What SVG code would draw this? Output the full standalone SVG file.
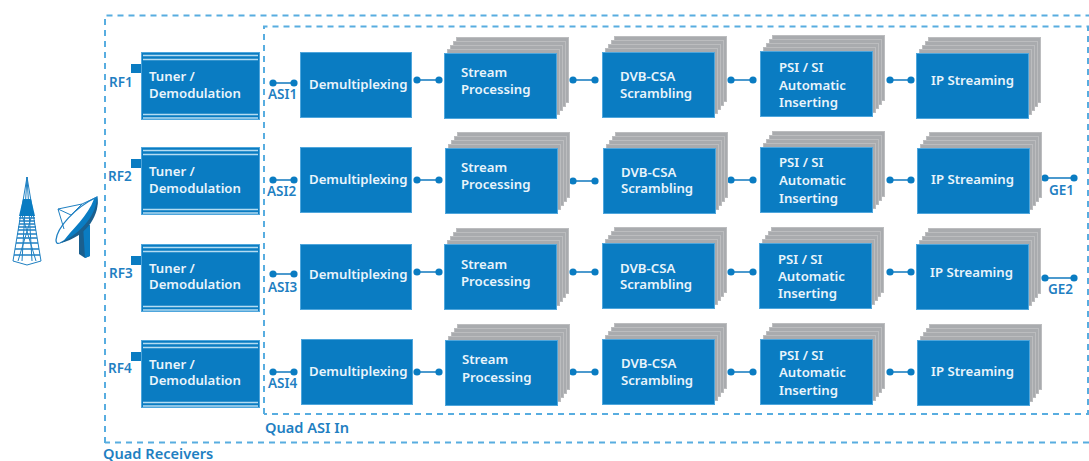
<svg xmlns="http://www.w3.org/2000/svg" width="1089" height="461" viewBox="0 0 1089 461">
<style>
text{font-family:"Noto Sans","Open Sans","Liberation Sans",sans-serif;font-weight:600;font-size:13.2px}
.w{fill:#e9f4fb}
.l{fill:#1f80c2;font-size:13.5px}
.q{fill:#1f80c2;font-size:14.6px}
.b{fill:#0a7cc2;stroke:#4fa6dc;stroke-width:1}
.g{fill:#a9abae;stroke:#bcbdbf;stroke-width:1}
.s{fill:none;stroke:#b5dcf2;stroke-width:1.4}
.d{fill:none;stroke:#58ade0;stroke-width:2;stroke-dasharray:6 5}
.c{stroke:#1f80c2;stroke-width:1.6;fill:none;marker-start:url(#dot);marker-end:url(#dot)}
.t{fill:none;stroke:#1f80c2;stroke-width:1}
.h{fill:none;stroke:#1f80c2;stroke-width:1.5}
</style>
<defs>
<marker id="dot" markerUnits="userSpaceOnUse" markerWidth="8" markerHeight="8" refX="4" refY="4"><circle cx="4" cy="4" r="3.6" fill="#0a7cc2"/></marker>
<g id="stack">
<rect class="g" x="12.500" y="-15.500" width="112" height="65"/>
<rect class="g" x="9.500" y="-11.500" width="112" height="65"/>
<rect class="g" x="6.500" y="-7.500" width="112" height="65"/>
<rect class="g" x="3.500" y="-3.500" width="112" height="65"/>
<rect class="b" x="0.500" y="0.500" width="112" height="65"/>
</g>
<g id="tuner">
<rect fill="#0a7cc2" x="-10" y="12" width="11" height="9"/>
<rect class="b" x="0.500" y="0.500" width="118" height="67"/>
<path class="s" d="M2 3.500H117M2 7.500H117M2 62.500H117M2 66H117"/>
</g>
</defs>

<g id="connectors">
<path class="d" d="M105 443V15.500H1089"/>
<path class="d" d="M1089 442.500H105"/>
<path class="d" d="M264 414V26.500H1088V414H264"/>
<path class="c" d="M273 83H294"/><path class="c" d="M273 180H294"/><path class="c" d="M273 274H294"/><path class="c" d="M273 372H294"/>
<path class="c" d="M417 80H439"/><path class="c" d="M417 180H439"/><path class="c" d="M417 272H439"/><path class="c" d="M417 372H439"/>
<path class="c" d="M573 80H595"/><path class="c" d="M573 181H595"/><path class="c" d="M573 272H595"/><path class="c" d="M573 372H595"/>
<path class="c" d="M731 80H753"/><path class="c" d="M731 180H753"/><path class="c" d="M731 272H753"/><path class="c" d="M731 372H753"/>
<path class="c" d="M890 80H911"/><path class="c" d="M890 180H911"/><path class="c" d="M890 272H911"/><path class="c" d="M890 372H911"/>
<path class="c" d="M1045 178H1074"/><path class="c" d="M1045 278H1074"/>
</g>

<g id="tower">
<path class="t" d="M27 177L13 261M27 177L41 261M27 177L22 261M27 177L32 261M13 261L27 265L41 261M22 215L36 261M32 215L18 261"/>
<path fill="#0a7cc2" d="M23 199H31L35 216H19Z"/>
<path class="h" d="M19 218H35M19 221H35M19 224H35M18 227H36M18 230H36M17 234H37M17 238H37M16 243H38M15 249H39M14 255H40"/>
</g>
<g id="dish">
<path fill="#1a5f8e" d="M79 225H90V256L85 258L79 254Z"/>
<path fill="#0a7cc2" d="M83 225H90V256L85 258Z"/>
<path fill="#ffffff" stroke="#1f80c2" stroke-width="1.3" d="M56 240C57 228 74 208 97 197C99 212 84 232 60 243C57 244 56 243 56 240Z"/>
<path fill="#0a7cc2" d="M97 197C99 212 84 232 62 243C72 229 88 216 94 199Z"/>
<path fill="#1a5f8e" d="M60 243C84 232 97 212 97 197C101 212 88 237 60 243Z"/>
<path class="t" d="M58 209L82 204L97 197M58 209L64 229M58 209L71 215L82 204"/>
</g>

<g id="rf1"><use href="#tuner" x="141" y="52"/><text class="w" x="149" y="81">Tuner /</text><text class="w" x="149" y="98">Demodulation</text><text class="l" x="109" y="87">RF1</text></g>
<g id="rf2"><use href="#tuner" x="141" y="147"/><text class="w" x="149" y="176">Tuner /</text><text class="w" x="149" y="193">Demodulation</text><text class="l" x="108" y="181">RF2</text></g>
<g id="rf3"><use href="#tuner" x="141" y="244"/><text class="w" x="149" y="273">Tuner /</text><text class="w" x="149" y="289">Demodulation</text><text class="l" x="109" y="278">RF3</text></g>
<g id="rf4"><use href="#tuner" x="141" y="340"/><text class="w" x="149" y="369">Tuner /</text><text class="w" x="149" y="385">Demodulation</text><text class="l" x="108" y="373">RF4</text></g>

<g id="asi1"><text class="l" x="268" y="99">ASI1</text></g>
<g id="asi2"><text class="l" x="267" y="196">ASI2</text></g>
<g id="asi3"><text class="l" x="268" y="292">ASI3</text></g>
<g id="asi4"><text class="l" x="268" y="388">ASI4</text></g>

<g id="demux1"><rect class="b" x="300.500" y="52.500" width="111" height="65"/><text class="w" x="309" y="89">Demultiplexing</text></g>
<g id="demux2"><rect class="b" x="300.500" y="147.500" width="111" height="65"/><text class="w" x="309" y="184">Demultiplexing</text></g>
<g id="demux3"><rect class="b" x="300.500" y="244.500" width="111" height="65"/><text class="w" x="309" y="279">Demultiplexing</text></g>
<g id="demux4"><rect class="b" x="301.500" y="339.500" width="111" height="65"/><text class="w" x="309" y="376">Demultiplexing</text></g>

<g id="stream1"><use href="#stack" x="444" y="53"/><text class="w" x="461" y="77">Stream</text><text class="w" x="461" y="94">Processing</text></g>
<g id="stream2"><use href="#stack" x="445" y="148"/><text class="w" x="461" y="172">Stream</text><text class="w" x="461" y="189">Processing</text></g>
<g id="stream3"><use href="#stack" x="444" y="244"/><text class="w" x="461" y="269">Stream</text><text class="w" x="461" y="286">Processing</text></g>
<g id="stream4"><use href="#stack" x="445" y="340"/><text class="w" x="462" y="364">Stream</text><text class="w" x="462" y="382">Processing</text></g>

<g id="dvb1"><use href="#stack" x="602" y="52"/><text class="w" x="620" y="81">DVB-CSA</text><text class="w" x="620" y="98">Scrambling</text></g>
<g id="dvb2"><use href="#stack" x="603" y="148"/><text class="w" x="621" y="177">DVB-CSA</text><text class="w" x="621" y="193">Scrambling</text></g>
<g id="dvb3"><use href="#stack" x="602" y="243"/><text class="w" x="620" y="273">DVB-CSA</text><text class="w" x="620" y="289">Scrambling</text></g>
<g id="dvb4"><use href="#stack" x="602" y="339"/><text class="w" x="621" y="368">DVB-CSA</text><text class="w" x="621" y="385">Scrambling</text></g>

<g id="psi1"><use href="#stack" x="760" y="51"/><text class="w" x="779" y="72">PSI / SI</text><text class="w" x="779" y="90">Automatic</text><text class="w" x="779" y="107">Inserting</text></g>
<g id="psi2"><use href="#stack" x="760" y="147"/><text class="w" x="779" y="167">PSI / SI</text><text class="w" x="779" y="185">Automatic</text><text class="w" x="779" y="203">Inserting</text></g>
<g id="psi3"><use href="#stack" x="759" y="243"/><text class="w" x="778" y="264">PSI / SI</text><text class="w" x="778" y="281">Automatic</text><text class="w" x="778" y="298">Inserting</text></g>
<g id="psi4"><use href="#stack" x="760" y="339"/><text class="w" x="779" y="360">PSI / SI</text><text class="w" x="779" y="377">Automatic</text><text class="w" x="779" y="395">Inserting</text></g>

<g id="ip1"><use href="#stack" x="916" y="53"/><text class="w" x="931" y="85">IP Streaming</text></g>
<g id="ip2"><use href="#stack" x="917" y="148"/><text class="w" x="931" y="184">IP Streaming</text></g>
<g id="ip3"><use href="#stack" x="916" y="244"/><text class="w" x="930" y="277">IP Streaming</text></g>
<g id="ip4"><use href="#stack" x="917" y="340"/><text class="w" x="931" y="376">IP Streaming</text></g>

<g id="ge1"><text class="l" x="1049" y="195">GE1</text></g>
<g id="ge2"><text class="l" x="1048" y="294">GE2</text></g>
<g id="quad-asi"><text class="q" x="265" y="433">Quad ASI In</text></g>
<g id="quad-receivers"><text class="q" x="103" y="459">Quad Receivers</text></g>
</svg>
